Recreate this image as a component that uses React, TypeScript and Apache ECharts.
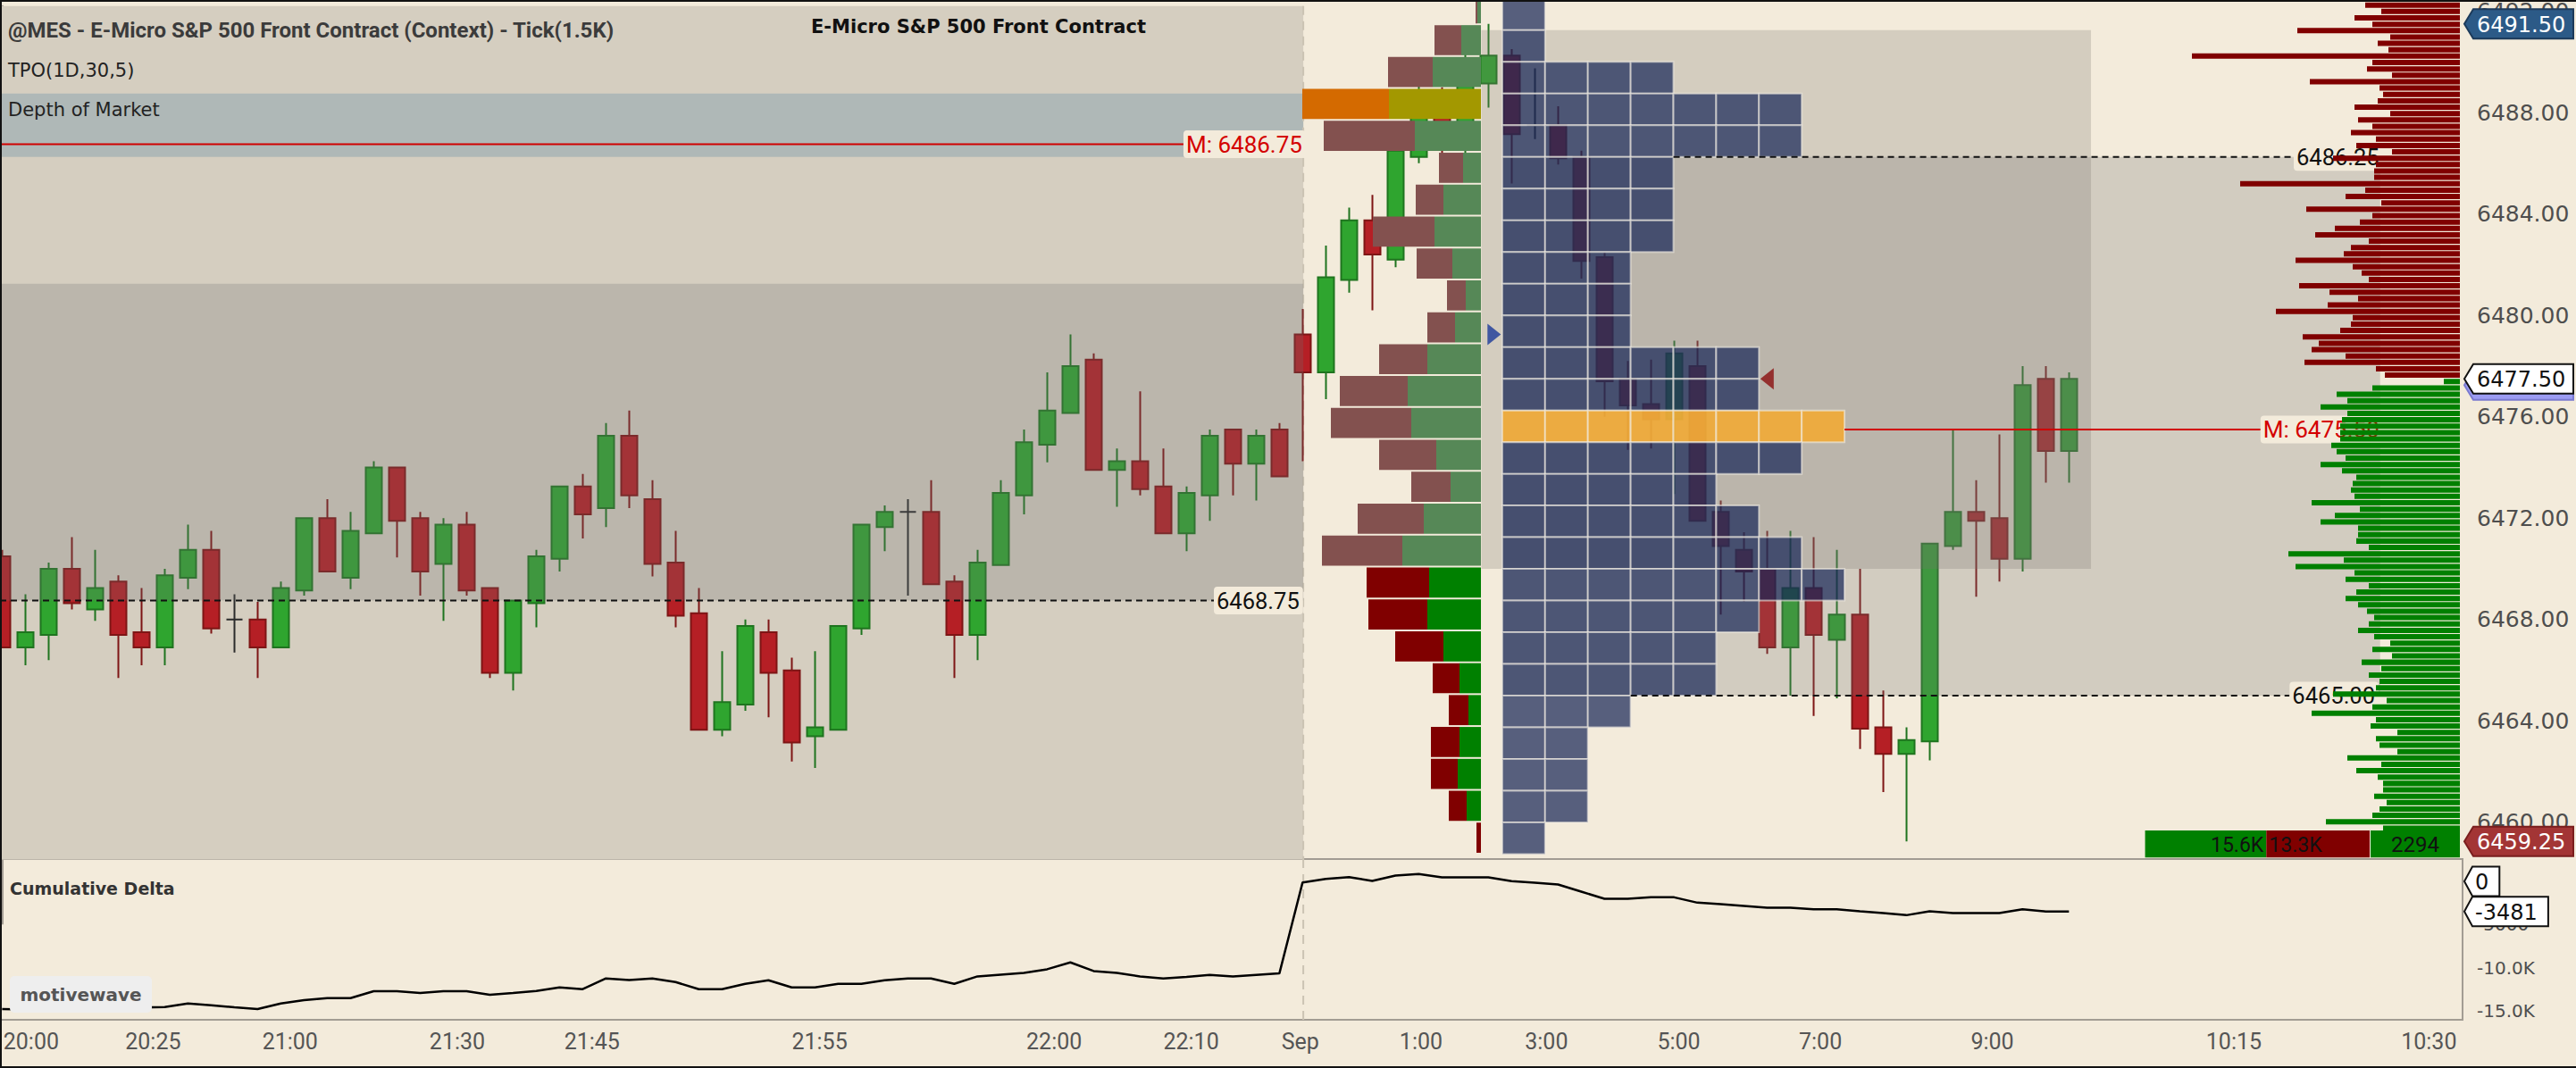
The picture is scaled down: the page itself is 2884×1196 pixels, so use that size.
import React, { useEffect, useRef } from "react";
import * as echarts from "echarts";

// ---------------- DATA ----------------
// candles: [open, close, low, high] per tick bar (index = bar number)
const candles: number[][] = [
  [6470.5, 6466.9, 6466.9, 6470.75], [6466.9, 6467.5, 6466.2, 6469.0], [6467.4, 6470.0, 6466.4, 6470.25],
  [6470.0, 6468.65, 6468.4, 6471.25], [6468.4, 6469.25, 6467.95, 6470.75], [6469.5, 6467.4, 6465.7, 6469.75],
  [6467.5, 6466.9, 6466.2, 6469.25], [6466.9, 6469.75, 6466.2, 6470.0], [6469.65, 6470.75, 6469.2, 6471.75],
  [6470.75, 6467.65, 6467.45, 6471.5], [6468.0, 6468.0, 6466.7, 6469.0], [6468.0, 6466.9, 6465.7, 6468.7],
  [6466.9, 6469.25, 6466.9, 6469.5], [6469.15, 6472.0, 6468.95, 6472.0], [6472.0, 6469.9, 6469.9, 6472.75],
  [6469.65, 6471.5, 6469.2, 6472.25], [6471.4, 6474.0, 6471.4, 6474.25], [6474.0, 6471.9, 6470.45, 6474.0],
  [6472.0, 6469.9, 6468.95, 6472.25], [6470.2, 6471.75, 6467.95, 6472.0], [6471.75, 6469.15, 6468.95, 6472.25],
  [6469.25, 6465.9, 6465.7, 6469.25], [6465.9, 6468.75, 6465.2, 6468.75], [6468.65, 6470.5, 6467.7, 6470.75],
  [6470.4, 6473.25, 6469.9, 6473.25], [6473.25, 6472.15, 6471.2, 6473.75], [6472.4, 6475.25, 6471.65, 6475.75],
  [6475.25, 6472.9, 6472.4, 6476.25], [6472.75, 6470.2, 6469.7, 6473.5], [6470.25, 6468.15, 6467.7, 6471.5],
  [6468.25, 6463.65, 6463.65, 6469.25], [6463.65, 6464.75, 6463.4, 6466.75], [6464.65, 6467.75, 6464.4, 6468.0],
  [6467.5, 6465.9, 6464.15, 6468.0], [6466.0, 6463.15, 6462.4, 6466.5], [6463.4, 6463.75, 6462.15, 6466.75],
  [6463.65, 6467.75, 6463.65, 6467.75], [6467.65, 6471.75, 6467.4, 6471.75], [6471.65, 6472.25, 6470.7, 6472.5],
  [6472.25, 6472.25, 6468.95, 6472.75], [6472.25, 6469.4, 6469.4, 6473.5], [6469.5, 6467.4, 6465.7, 6469.75],
  [6467.4, 6470.25, 6466.4, 6470.75], [6470.15, 6473.0, 6470.15, 6473.5], [6472.9, 6475.0, 6472.15, 6475.5],
  [6474.9, 6476.25, 6474.2, 6477.75], [6476.15, 6478.0, 6476.15, 6479.25], [6478.25, 6473.9, 6473.9, 6478.5],
  [6473.9, 6474.25, 6472.45, 6474.75], [6474.25, 6473.15, 6472.9, 6477.0], [6473.25, 6471.4, 6471.4, 6474.75],
  [6471.4, 6473.0, 6470.7, 6473.25], [6472.9, 6475.25, 6471.9, 6475.5], [6475.5, 6474.15, 6472.9, 6475.5],
  [6474.15, 6475.25, 6472.7, 6475.5], [6475.5, 6473.65, 6473.65, 6475.75], [6479.25, 6477.75, 6474.25, 6480.25],
  [6477.75, 6481.5, 6476.7, 6482.75], [6481.4, 6483.75, 6480.9, 6484.25], [6483.75, 6482.4, 6480.2, 6484.75],
  [6482.2, 6486.5, 6481.9, 6487.0], [6486.25, 6488.5, 6486.0, 6489.5], [6488.5, 6487.0, 6486.0, 6489.0],
  [6487.25, 6489.75, 6486.0, 6490.5], [6489.15, 6490.25, 6488.2, 6491.5], [6490.25, 6487.15, 6485.2, 6490.5],
  [6487.5, 6487.5, 6486.95, 6489.75], [6487.5, 6486.2, 6485.95, 6488.25], [6486.25, 6482.15, 6481.45, 6486.5],
  [6482.3, 6477.4, 6476.0, 6482.5], [6477.5, 6476.45, 6474.7, 6478.2], [6476.5, 6475.9, 6474.75, 6478.25],
  [6475.9, 6478.5, 6472.95, 6479.0], [6478.0, 6471.9, 6471.9, 6479.0], [6472.25, 6470.9, 6468.2, 6472.7],
  [6470.75, 6469.9, 6468.7, 6471.45], [6470.0, 6466.9, 6466.65, 6471.5], [6466.9, 6469.25, 6465.0, 6471.5],
  [6469.25, 6467.4, 6464.2, 6471.25], [6467.2, 6468.2, 6464.9, 6470.75], [6468.2, 6463.7, 6462.9, 6470.0],
  [6463.75, 6462.7, 6461.2, 6465.2], [6462.7, 6463.25, 6459.25, 6463.75], [6463.2, 6471.0, 6462.45, 6471.0],
  [6470.9, 6472.25, 6470.75, 6475.5], [6472.25, 6471.9, 6468.9, 6473.5], [6472.0, 6470.4, 6469.5, 6475.3],
  [6470.4, 6477.25, 6469.9, 6478.0], [6477.5, 6474.65, 6473.4, 6478.0], [6474.65, 6477.5, 6473.4, 6477.75],
];

// cumulative delta per bar
const cumDelta: number[] = [
  -14800, -14850, -14900, -14950, -14900, -14750, -14600, -14560, -14145, -14352,
  -14594, -14800, -14145, -13766, -13525, -13525, -12730, -12730, -12937, -12730,
  -12730, -13145, -12937, -12697, -12283, -12490, -11248, -11420, -11248, -11662,
  -12490, -12490, -11869, -11455, -12283, -12283, -11869, -11869, -11455, -11248,
  -11248, -11869, -11007, -10800, -10593, -10180, -9384, -10386, -10593, -11007,
  -11248, -11076, -10835, -11007, -10835, -10662, -120, 294, 500, 52,
  673, 845, 466, 466, 466, 18, -155, -362, -1190, -2018,
  -2018, -1845, -1845, -2466, -2639, -2846, -3053, -3053, -3225, -3225,
  -3467, -3674, -3916, -3467, -3674, -3674, -3674, -3225, -3481, -3481,
];

// time axis labels (bar position where the label sits)
const timeTickBars = [1.25, 6.5, 12.4, 19.6, 25.4, 35.2, 45.3, 51.2, 55.9, 61.1, 66.5, 72.2, 78.3, 85.7, 96.1, 104.5];
const timeTickLabels = ["20:00", "20:25", "21:00", "21:30", "21:45", "21:55", "22:00", "22:10", "Sep", "1:00", "3:00", "5:00", "7:00", "9:00", "10:15", "10:30"];

// volume / TPO profile bins (low price of each 1.25 bin)
const profileBinLow = [6491.25, 6490, 6488.75, 6487.5, 6486.25, 6485, 6483.75, 6482.5, 6481.25, 6480, 6478.75, 6477.5, 6476.25, 6475, 6473.75, 6472.5, 6471.25, 6470, 6468.75, 6467.5, 6466.25, 6465, 6463.75, 6462.5, 6461.25, 6460, 6458.75];
const profileSellVol = [2, 30, 50, 97, 102, 27, 31, 69, 40, 21, 31, 54, 76, 90, 64, 44, 74, 90, 70, 66, 54, 30, 22, 32, 30, 20, 5];
const profileBuyVol = [4, 22, 54, 103, 74, 20, 42, 52, 32, 17, 29, 60, 82, 78, 50, 34, 64, 88, 58, 60, 42, 24, 14, 24, 26, 16, 0];
const tpoCounts = [1, 1, 4, 7, 7, 4, 4, 4, 3, 3, 3, 6, 6, 8, 7, 5, 6, 7, 8, 6, 5, 5, 3, 2, 2, 2, 1];
const tpoPocBin = 13;
const profileMutedFrom = 6470; // bins at/above this price belong to the earlier part

// depth of market ladder
const domAskTop = 6492.25;
const domAskSizes = [
  120, 106, 88, 118, 98, 182, 78, 92, 80, 300, 98, 104, 76, 168, 90, 86, 92, 118, 78, 114,
  98, 122, 94, 116, 76, 142, 94, 96, 96, 246, 106, 128, 88, 172, 98, 112, 140, 162, 102, 122,
  130, 184, 120, 110, 102, 180, 146, 114, 148, 206, 120, 122, 134, 176, 158, 166, 128, 174, 94, 84,
];
const domBidTop = 6477.25;
const domBidSizes = [
  18, 98, 138, 126, 156, 126, 132, 134, 134,
  134, 144, 138, 128, 156, 132, 116, 120, 122, 118, 166, 112, 140, 156, 114, 114, 116, 102, 192, 130,
  184, 118, 128, 102, 116, 128, 114, 104, 96, 102, 114, 96, 78, 98, 76, 110, 88, 102, 90, 94,
  142, 82, 98, 166, 94, 100, 70, 94, 90, 70, 126, 88, 116, 92, 86, 86, 96, 82, 90, 98, 150, 86,
];
const domTotalValues = [15.6, 13.3, 2294];
const domTotalLabels = ["15.6K", "13.3K", "2294"];

// reference levels
const levelPrices = [6486.75, 6468.75, 6486.25, 6465.0, 6475.5];
const levelKinds = ["mid", "va", "va", "va", "mid"];
const levelStartBar = [-0.092, -0.092, 71.97, 70.13, 79.34];
const levelEndBar = [50.87, 52.18, 98.68, 98.5, 97.25];

// price scale badges
const badgePrices = [6491.5, 6477.25, 6477.5, 6459.25];
const badgeKinds = ["high", "bid", "last", "low"];
const deltaBadgeValues = [0, -3481];

// TPO open/close markers
const markerBars = [64.25, 76.0];
const markerPrices = [6479.25, 6477.5];
const markerKinds = ["open", "close"];

// zones
const sessionBar = 56.03;
const bgZoneRects = [
  [-0.092, 56.03, 6458.54, 6492.2],
  [-0.092, 56.03, 6486.25, 6488.75],
];
const overlayRects = [
  [-0.092, 56.03, 6468.75, 6481.25],
  [63.7, 89.95, 6470, 6491.25],
  [64.6, 102.4, 6465, 6486.25],
];

// ---------------- LAYOUT / STYLE ----------------
const X_MIN = -0.092, X_MAX = 105.95;
const P_MIN = 6456, P_MAX = 6492.2, P_PANEL_LOW = 6458.54;
const D_MIN = -16035, D_MAX = 2588;
const BIN = 1.25, TICK = 0.25;
const TPO_START = 64.6, TPO_COL = 1.842;
const CREAM = "#f3ebdb";
const bgZoneColors = ["#d5cec0", "#afb8b7"];
const overlayColors = ["rgba(112,112,110,0.25)", "rgba(120,116,108,0.25)", "rgba(112,112,110,0.25)"];
const badgeStyles: any = {
  high: { fill: "#2c5a87", stroke: "#1c3a5a", text: "#ffffff" },
  bid: { fill: "#9b9bf2", stroke: "#7a7ad0", text: "#9b9bf2" },
  last: { fill: "#ffffff", stroke: "#111111", text: "#111111" },
  low: { fill: "#a33535", stroke: "#7a1e1e", text: "#ffffff" },
};

function box(api: any, x0: number, x1: number, p0: number, p1: number, insetX = 0, insetY = 0) {
  const a = api.coord([x0, p0]);
  const b = api.coord([x1, p1]);
  const x = Math.min(a[0], b[0]) + insetX;
  const y = Math.min(a[1], b[1]) + insetY;
  return {
    x,
    y,
    width: Math.max(0, Math.abs(b[0] - a[0]) - 2 * insetX),
    height: Math.max(0, Math.abs(b[1] - a[1]) - 2 * insetY),
  };
}

const fmtDelta = (v: number) => (Math.abs(v) >= 10000 ? (v / 1000).toFixed(1) + "K" : String(v));
const textW = (s: string) => s.split("").reduce((w, ch) => w + (ch === "-" ? 8.7 : ch === "." ? 7.6 : 15.3), 0);

function buildOption(): any {
  const domData = [
    ...domAskSizes.map((s, k) => [domAskTop - TICK * k, s, 0]),
    ...domBidSizes.map((s, k) => [domBidTop - TICK * k, s, 1]),
  ];
  const profileTotals = profileSellVol.map((s, j) => s + profileBuyVol[j]);
  const profilePocBin = profileTotals.indexOf(Math.max(...profileTotals));

  return {
    animation: false,
    backgroundColor: CREAM,
    textStyle: { fontFamily: "Roboto" },
    grid: [
      { left: 0, top: 0, width: 2757, height: 1034.56, show: false },
      { left: 0, top: 962, width: 2757, height: 180, show: true, borderColor: "#a29c93", borderWidth: 2, backgroundColor: "rgba(0,0,0,0)" },
      { left: 1458, top: 0, width: 200, height: 1034.56, show: false },
      { left: 2384, top: 0, width: 370, height: 1034.56, show: false },
    ],
    xAxis: [
      { gridIndex: 0, type: "value", min: X_MIN, max: X_MAX, show: false },
      { gridIndex: 1, type: "value", min: X_MIN, max: X_MAX, show: false },
      { gridIndex: 2, type: "value", min: 0, max: 200, inverse: true, show: false },
      { gridIndex: 3, type: "value", min: 0, max: 370, inverse: true, show: false },
    ],
    yAxis: [
      {
        gridIndex: 0, type: "value", position: "right", min: P_MIN, max: P_MAX, interval: 4,
        axisLine: { show: true, lineStyle: { color: "#a29c93", width: 2 } },
        axisTick: { show: false }, splitLine: { show: false },
        axisLabel: { margin: 16, formatter: (v: number) => v.toFixed(2), color: "#4e4e4e", fontFamily: "DejaVu Sans", fontSize: 25, showMinLabel: false, showMaxLabel: false },
      },
      {
        gridIndex: 1, type: "value", position: "right", min: D_MIN, max: D_MAX, splitNumber: 4,
        axisLine: { show: false }, axisTick: { show: false }, splitLine: { show: false },
        axisLabel: { margin: 16, formatter: fmtDelta, color: "#4e4e4e", fontFamily: "DejaVu Sans", fontSize: 20, showMinLabel: false, showMaxLabel: false },
      },
      { gridIndex: 2, type: "value", min: P_MIN, max: P_MAX, show: false },
      { gridIndex: 3, type: "value", min: P_MIN, max: P_MAX, show: false },
    ],
    graphic: [
      { type: "text", x: 9, y: 33.5, z: 50, style: { text: "@MES - E-Micro S&P 500 Front Contract (Context) - Tick(1.5K)", font: "bold 24px Roboto", fill: "#3b3b3b", verticalAlign: "middle" } },
      { type: "text", x: 908, y: 29.5, z: 50, style: { text: "E-Micro S&P 500 Front Contract", font: 'bold 21px "DejaVu Sans"', fill: "#111111", verticalAlign: "middle" } },
      { type: "text", x: 9, y: 79, z: 50, style: { text: "TPO(1D,30,5)", font: '21px "DejaVu Sans"', fill: "#222222", verticalAlign: "middle" } },
      { type: "text", x: 9, y: 122.5, z: 50, style: { text: "Depth of Market", font: '21px "DejaVu Sans"', fill: "#222222", verticalAlign: "middle" } },
      { type: "text", x: 11, y: 995, z: 50, style: { text: "Cumulative Delta", font: 'bold 19px "DejaVu Sans"', fill: "#333333", verticalAlign: "middle" } },
      { type: "rect", z: 50, shape: { x: 11, y: 1093, width: 159, height: 41, r: 5 }, style: { fill: "#eeeeee" } },
      { type: "text", x: 90.5, y: 1113.5, z: 51, style: { text: "motivewave", font: 'bold 20px "DejaVu Sans"', fill: "#555555", align: "center", verticalAlign: "middle" } },
      { type: "polyline", z: 60, shape: { points: [[1, 1196], [1, 1], [2884, 1]] }, style: { stroke: "#111111", lineWidth: 2, fill: null } },
      { type: "line", z: 60, shape: { x1: 0, y1: 1195, x2: 2884, y2: 1195 }, style: { stroke: "#111111", lineWidth: 2 } },
    ],
    series: [
      // background zones
      {
        type: "custom", xAxisIndex: 0, yAxisIndex: 0, z: 1, silent: true,
        data: bgZoneRects,
        renderItem: (params: any, api: any) => ({
          type: "rect",
          shape: box(api, api.value(0), api.value(1), api.value(2), api.value(3)),
          style: { fill: bgZoneColors[params.dataIndex] },
        }),
      },
      // candles
      {
        type: "candlestick", xAxisIndex: 0, yAxisIndex: 0, z: 2, barWidth: 19,
        data: candles.map((c, i) => [i, c[0], c[1], c[2], c[3]]),
        encode: { x: 0, y: [1, 2, 3, 4] },
        itemStyle: {
          color: "#2fa52f", color0: "#b51f25", borderColor: "#1f741f", borderColor0: "#7e1515",
          borderColorDoji: "#2b2b2b", borderWidth: 2,
        },
      },
      // translucent range overlays
      {
        type: "custom", xAxisIndex: 0, yAxisIndex: 0, z: 3, silent: true,
        data: overlayRects,
        renderItem: (params: any, api: any) => ({
          type: "rect",
          shape: box(api, api.value(0), api.value(1), api.value(2), api.value(3)),
          style: { fill: overlayColors[params.dataIndex] },
        }),
      },
      // TPO blocks
      {
        type: "custom", xAxisIndex: 0, yAxisIndex: 0, z: 4, silent: true,
        data: profileBinLow.map((low, k) => [low, tpoCounts[k]]),
        renderItem: (params: any, api: any) => {
          const low = api.value(0);
          const n = api.value(1);
          const children: any[] = [];
          for (let c = 0; c < n; c++) {
            const x0 = TPO_START + c * TPO_COL;
            children.push({
              type: "rect",
              shape: box(api, x0, x0 + TPO_COL, low, low + BIN),
              style: {
                fill: params.dataIndex === tpoPocBin ? "rgba(240,170,55,0.92)" : "rgba(20,35,85,0.7)",
                stroke: "rgba(242,237,226,0.6)",
                lineWidth: 2,
              },
            });
          }
          return { type: "group", children };
        },
      },
      // volume profile
      {
        type: "custom", xAxisIndex: 2, yAxisIndex: 2, z: 4, silent: true,
        data: profileBinLow.map((low, k) => [profileSellVol[k], low, profileBuyVol[k]]),
        renderItem: (params: any, api: any) => {
          const sell = api.value(0);
          const low = api.value(1);
          const buy = api.value(2);
          const isPoc = params.dataIndex === profilePocBin;
          const muted = low >= profileMutedFrom;
          const buyColor = isPoc ? "#a39800" : muted ? "#568857" : "#008000";
          const sellColor = isPoc ? "#d46a00" : muted ? "#83514f" : "#800000";
          return {
            type: "group",
            children: [
              { type: "rect", shape: box(api, 0, buy, low, low + BIN, 0, 1), style: { fill: buyColor } },
              { type: "rect", shape: box(api, buy, buy + sell, low, low + BIN, 0, 1), style: { fill: sellColor } },
            ],
          };
        },
      },
      // session separator (price panel)
      {
        type: "custom", xAxisIndex: 0, yAxisIndex: 0, z: 2, silent: true,
        data: [[sessionBar, P_MAX]],
        renderItem: (params: any, api: any) => {
          const a = api.coord([api.value(0), P_MAX]);
          const b = api.coord([api.value(0), P_PANEL_LOW]);
          return { type: "line", shape: { x1: a[0], y1: a[1], x2: b[0], y2: b[1] }, style: { stroke: "#cbc3b3", lineWidth: 2, lineDash: [10, 7] } };
        },
      },
      // reference levels
      {
        type: "custom", xAxisIndex: 0, yAxisIndex: 0, z: 5, silent: true,
        data: levelPrices.map((p, k) => [levelStartBar[k], p]),
        renderItem: (params: any, api: any) => {
          const k = params.dataIndex;
          const price = levelPrices[k];
          const a = api.coord([levelStartBar[k], price]);
          const b = api.coord([levelEndBar[k], price]);
          const isMid = levelKinds[k] === "mid";
          return {
            type: "group",
            children: [
              { type: "line", shape: { x1: a[0], y1: a[1], x2: b[0], y2: b[1] }, style: { stroke: isMid ? "#d00000" : "#111111", lineWidth: 2, lineDash: isMid ? null : [7, 5] } },
              {
                type: "text", x: b[0], y: b[1],
                style: {
                  text: (isMid ? "M: " : "") + price.toFixed(2),
                  fill: isMid ? "#d40000" : "#111111",
                  font: isMid ? "26px Roboto" : "25.5px Roboto",
                  align: "left", verticalAlign: "middle",
                  backgroundColor: CREAM, padding: [3, 4, 2, 3], borderRadius: 4,
                },
              },
            ],
          };
        },
      },
      // TPO open / close markers
      {
        type: "scatter", xAxisIndex: 0, yAxisIndex: 0, z: 5, silent: true,
        symbol: "triangle", symbolSize: [24, 15],
        data: markerBars.map((b, k) => ({
          value: [b, markerPrices[k]],
          symbolRotate: markerKinds[k] === "open" ? -90 : 90,
          itemStyle: { color: markerKinds[k] === "open" ? "#1a3a9a" : "#8b0f0f" },
        })),
      },
      // DOM ladder
      {
        type: "custom", xAxisIndex: 3, yAxisIndex: 3, z: 6, silent: true,
        data: domData,
        renderItem: (params: any, api: any) => {
          const price = api.value(0);
          const size = api.value(1);
          const side = api.value(2);
          return {
            type: "rect",
            shape: box(api, 0, size, price - 0.105, price + 0.105),
            style: { fill: side === 0 ? "#800000" : "#008000" },
          };
        },
      },
      // DOM totals
      {
        type: "custom", xAxisIndex: 3, yAxisIndex: 3, z: 6, silent: true,
        data: [[0, 6459.1]],
        renderItem: (params: any, api: any) => {
          const lo = 6458.6, hi = 6459.66, kScale = 8.7, deltaW = 100;
          const askW = domTotalValues[1] * kScale;
          const bidW = domTotalValues[0] * kScale;
          const dBox = box(api, 0, deltaW, lo, hi);
          const aBox = box(api, deltaW + 1, deltaW + 1 + askW, lo, hi);
          const bBox = box(api, deltaW + 1 + askW, deltaW + 1 + askW + bidW, lo, hi);
          const cy = dBox.y + dBox.height / 2 + 1;
          return {
            type: "group",
            children: [
              { type: "rect", shape: bBox, style: { fill: "#008000" } },
              { type: "rect", shape: aBox, style: { fill: "#800000" } },
              { type: "rect", shape: dBox, style: { fill: "#008000" } },
              { type: "text", x: bBox.x + bBox.width - 3, y: cy, style: { text: domTotalLabels[0], font: "23px Roboto", fill: "#111111", align: "right", verticalAlign: "middle" } },
              { type: "text", x: aBox.x + 3, y: cy, style: { text: domTotalLabels[1], font: "23px Roboto", fill: "#111111", align: "left", verticalAlign: "middle" } },
              { type: "text", x: dBox.x + dBox.width / 2, y: cy, style: { text: domTotalLabels[2], font: "24px Roboto", fill: "#111111", align: "center", verticalAlign: "middle" } },
            ],
          };
        },
      },
      // price badges
      {
        type: "custom", xAxisIndex: 0, yAxisIndex: 0, z: 7, silent: true,
        data: badgePrices.map((p) => [X_MAX, p]),
        renderItem: (params: any, api: any) => {
          const k = params.dataIndex;
          const st = badgeStyles[badgeKinds[k]];
          const pt = api.coord([X_MAX, badgePrices[k]]);
          const x = pt[0] + 2, y = pt[1], w = 122, h = 33;
          const children: any[] = [
            {
              type: "polygon",
              shape: { points: [[x, y], [x + 10, y - h / 2], [x + w, y - h / 2], [x + w, y + h / 2], [x + 10, y + h / 2]] },
              style: { fill: st.fill, stroke: st.stroke, lineWidth: 2 },
            },
          ];
          if (badgeKinds[k] !== "bid") {
            children.push({ type: "text", x: x + 14, y: y + 1, style: { text: badgePrices[k].toFixed(2), font: '24px "DejaVu Sans"', fill: st.text, align: "left", verticalAlign: "middle" } });
          }
          return { type: "group", children };
        },
      },
      // cumulative delta
      {
        type: "line", xAxisIndex: 1, yAxisIndex: 1, z: 3, silent: true,
        showSymbol: false, symbol: "none",
        data: cumDelta.map((v, i) => [i, v]),
        lineStyle: { color: "#000000", width: 2.5 },
      },
      // session separator (delta panel)
      {
        type: "custom", xAxisIndex: 1, yAxisIndex: 1, z: 2, silent: true,
        data: [[sessionBar, 0]],
        renderItem: (params: any, api: any) => {
          const a = api.coord([api.value(0), D_MAX]);
          const b = api.coord([api.value(0), D_MIN]);
          return { type: "line", shape: { x1: a[0], y1: a[1], x2: b[0], y2: b[1] }, style: { stroke: "#cbc3b3", lineWidth: 2, lineDash: [10, 7] } };
        },
      },
      // delta badges
      {
        type: "custom", xAxisIndex: 1, yAxisIndex: 1, z: 7, silent: true,
        data: deltaBadgeValues.map((v) => [X_MAX, v]),
        renderItem: (params: any, api: any) => {
          const v = deltaBadgeValues[params.dataIndex];
          const label = String(v);
          const pt = api.coord([X_MAX, v]);
          const x = pt[0] + 2, y = pt[1], w = textW(label) + 24, h = 33;
          return {
            type: "group",
            children: [
              {
                type: "polygon",
                shape: { points: [[x, y], [x + 9, y - h / 2], [x + w, y - h / 2], [x + w, y + h / 2], [x + 9, y + h / 2]] },
                style: { fill: "#ffffff", stroke: "#111111", lineWidth: 2 },
              },
              { type: "text", x: x + 12, y: y + 1, style: { text: label, font: '24px "DejaVu Sans"', fill: "#111111", align: "left", verticalAlign: "middle" } },
            ],
          };
        },
      },
      // time axis labels
      {
        type: "custom", xAxisIndex: 1, yAxisIndex: 1, z: 2, silent: true,
        data: timeTickBars.map((b) => [b, D_MIN]),
        renderItem: (params: any, api: any) => {
          const pt = api.coord([api.value(0), D_MIN]);
          return {
            type: "text", x: pt[0], y: pt[1] + 24,
            style: { text: timeTickLabels[params.dataIndex], font: "25px Roboto", fill: "#555555", align: "center", verticalAlign: "middle" },
          };
        },
      },
    ],
  };
}

export default function App() {
  const ref = useRef<HTMLDivElement>(null);
  useEffect(() => {
    if (!ref.current) return;
    const chart = echarts.init(ref.current, null, { renderer: "svg" });
    chart.setOption(buildOption());
    return () => chart.dispose();
  }, []);
  return <div ref={ref} style={{ position: "fixed", left: 0, top: 0, width: 2884, height: 1196 }} />;
}
